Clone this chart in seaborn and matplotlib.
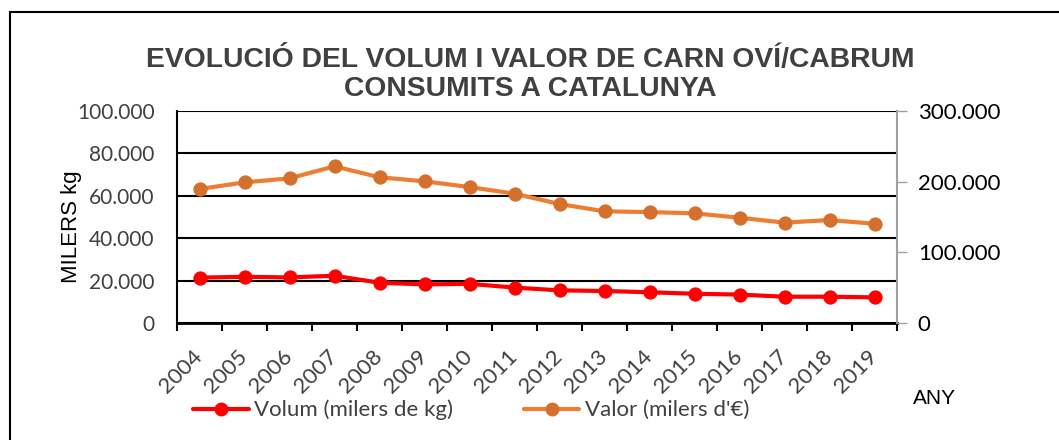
"""
Line chart with two y axes: volume and value of sheep/goat meat consumed in Catalonia.
"""

import matplotlib.pyplot as plt
import matplotlib.patches as mpatches
from matplotlib.lines import Line2D
from matplotlib.ticker import FuncFormatter, FixedLocator
import pandas as pd
import seaborn as sns

years = ['2004', '2005', '2006', '2007', '2008', '2009', '2010', '2011',
         '2012', '2013', '2014', '2015', '2016', '2017', '2018', '2019']
volum = [21400, 21800, 21500, 22300, 19000, 18200, 18500, 16700,
         15400, 15100, 14500, 13800, 13400, 12400, 12400, 12100]
valor = [189600, 199000, 204700, 221700, 206200, 200500, 192400, 183000,
         168400, 158000, 157000, 155200, 149000, 142000, 145700, 140500]

label_volum = 'Volum (milers de kg)'
label_valor = "Valor (milers d'€)"

RED = '#FF0000'
ORANGE = '#ED7D31'
ORANGE_DARK = '#D4702C'


def thousands(v, pos):
    return f'{int(v):,}'.replace(',', '.')


def main():
    df = pd.DataFrame({'any': years, 'volum': volum, 'valor': valor})

    sns.set_style('white')
    plt.rcParams['font.family'] = ['Lato', 'DejaVu Sans']

    fig = plt.figure(figsize=(10.59, 4.40), dpi=100)
    W, H = 1059, 440
    ax = fig.add_axes([177 / W, 1 - 323 / H, 720 / W, 212 / H])
    ax2 = ax.twinx()

    sns.lineplot(data=df, x='any', y='volum', ax=ax, color=RED, lw=3,
                 marker='o', markersize=9.5, markeredgecolor=RED,
                 markerfacecolor=RED, sort=False)
    sns.lineplot(data=df, x='any', y='valor', ax=ax2, color=ORANGE, lw=3,
                 marker='o', markersize=9.5, markeredgecolor=ORANGE_DARK,
                 markerfacecolor=ORANGE_DARK, sort=False)

    n = len(years)
    ax.set_xlim(-0.5, n - 0.5)
    ax.set_ylim(0, 100000)
    ax2.set_ylim(0, 300000)

    # left axis
    ax.set_yticks(range(0, 100001, 20000))
    ax.yaxis.set_major_formatter(FuncFormatter(thousands))
    ax.tick_params(axis='y', length=0, pad=16, labelsize=15,
                   labelcolor='#404040')
    ax.grid(axis='y', color='black', lw=1.5)
    ax.set_ylabel('MILERS kg', fontsize=16, family='Liberation Sans',
                  color='black', va='center')
    ax.yaxis.set_label_coords(-0.146, 0.455)
    ax.set_xlabel('')

    # x axis: ticks at category borders, labels at centres
    ax.xaxis.set_major_locator(FixedLocator(range(n)))
    ax.set_xticklabels(years)
    ax.xaxis.set_minor_locator(FixedLocator([i - 0.5 for i in range(n + 1)]))
    ax.tick_params(axis='x', which='major', length=0, pad=22, labelsize=16,
                   labelcolor='#404040')
    ax.tick_params(axis='x', which='minor', length=6, width=1.5,
                   color='black', bottom=True)
    for lbl in ax.get_xticklabels():
        lbl.set_rotation(45)
        lbl.set_ha('right')
        lbl.set_va('center')
        lbl.set_rotation_mode('anchor')
        lbl.set_x(lbl.get_position()[0] + 0.33)

    for side in ['top', 'right']:
        ax.spines[side].set_visible(False)
    ax.spines['left'].set_color('black')
    ax.spines['left'].set_linewidth(1.5)
    ax.spines['bottom'].set_color('black')
    ax.spines['bottom'].set_linewidth(2)
    ax.spines['bottom'].set_zorder(5)

    # right axis
    ax2.set_yticks(range(0, 300001, 100000))
    ax2.yaxis.set_major_formatter(FuncFormatter(thousands))
    ax2.tick_params(axis='y', right=True, length=7, width=1,
                    color='#A0A0A0', pad=8, labelsize=16,
                    labelcolor='black')
    ax2.set_ylabel('')
    for side in ['top', 'left', 'bottom']:
        ax2.spines[side].set_visible(False)
    ax2.spines['right'].set_color('#A0A0A0')
    ax2.spines['right'].set_linewidth(1.5)
    ax2.grid(False)
    if ax2.get_legend():
        ax2.get_legend().remove()

    fig.text(530 / W, 1 - 74 / H,
             'EVOLUCIÓ DEL VOLUM I VALOR DE CARN OVÍ/CABRUM\nCONSUMITS A CATALUNYA',
             ha='center', va='center', fontsize=20.3, fontweight='bold',
             color='#404040', family='Liberation Sans', linespacing=1.15)

    fig.text(934 / W, 1 - 398 / H, 'ANY', ha='center', va='center',
             fontsize=15, family='Liberation Sans', color='black')

    handles = [
        Line2D([], [], color=RED, lw=3, marker='o', markersize=9,
               markerfacecolor=RED, markeredgecolor=RED),
        Line2D([], [], color=ORANGE, lw=3, marker='o', markersize=9,
               markerfacecolor=ORANGE_DARK, markeredgecolor=ORANGE_DARK),
    ]
    fig.legend(handles, [label_volum, label_valor], ncol=2,
               loc='center', bbox_to_anchor=(471 / W, 1 - 410 / H),
               frameon=False, handlelength=2.5,
               handletextpad=0.23, columnspacing=3.2, labelcolor='#404040',
               prop={'family': ['Lato', 'DejaVu Sans'], 'size': 16})

    border = mpatches.Rectangle((10 / W, -0.05), 1.1, 1 - 12 / H + 0.05,
                                transform=fig.transFigure, fill=False,
                                edgecolor='black', lw=1.5)
    fig.patches.append(border)

    fig.savefig('out.png', dpi=100)


if __name__ == '__main__':
    main()
